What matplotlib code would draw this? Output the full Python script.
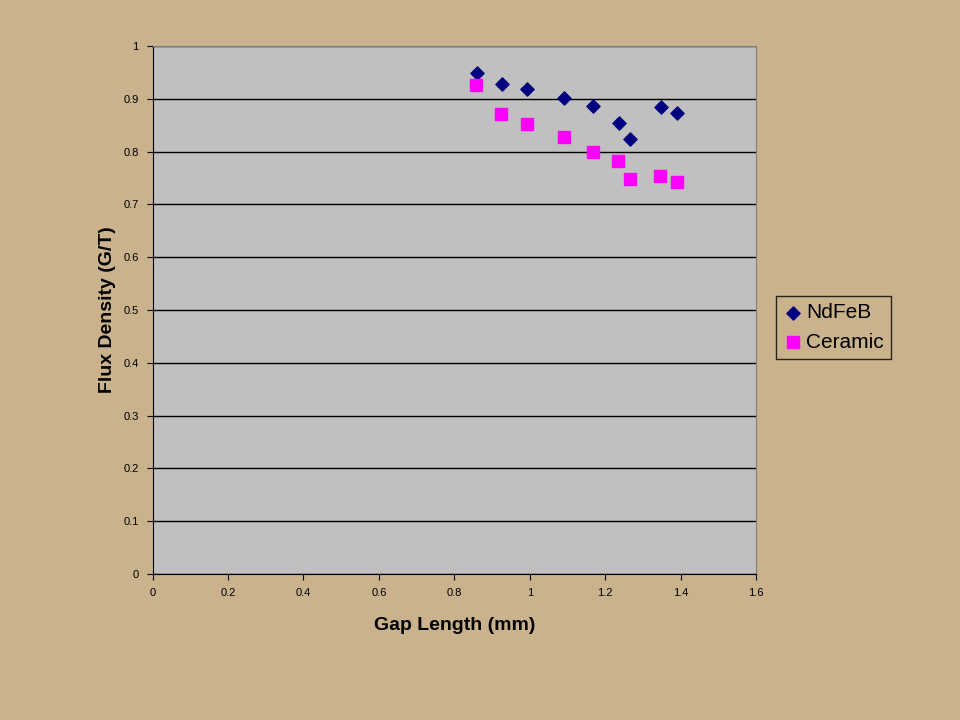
import matplotlib.pyplot as plt
import numpy as np

plt.rcParams['font.family'] = ['Liberation Sans', 'DejaVu Sans']

# gap length (mm) and flux density for both magnet types
gap_ndfeb = [0.860, 0.926, 0.994, 1.090, 1.169, 1.236, 1.267, 1.347, 1.391]
flux_ndfeb = [0.949, 0.929, 0.919, 0.901, 0.887, 0.854, 0.824, 0.884, 0.873]
gap_ceramic = [0.858, 0.924, 0.993, 1.090, 1.168, 1.235, 1.265, 1.346, 1.391]
flux_ceramic = [0.927, 0.871, 0.853, 0.827, 0.800, 0.783, 0.749, 0.753, 0.743]

bg = '#C9B28C'
fig = plt.figure(figsize=(9.6, 7.2), dpi=100, facecolor=bg)
ax = fig.add_axes([0.159, 0.203, 0.6285, 0.733])
ax.set_facecolor('#C0C0C0')

ax.scatter(gap_ndfeb, flux_ndfeb, marker='D', s=45, color='#000080', label='NdFeB', zorder=3)
ax.scatter(gap_ceramic, flux_ceramic, marker='s', s=70, color='#FF00FF', label='Ceramic', zorder=3)

ax.set_xlim(0, 1.6)
ax.set_ylim(0, 1)
ax.set_xticks(np.arange(0, 1.61, 0.2))
ax.set_yticks(np.arange(0, 1.01, 0.1))
ax.set_xticklabels(['0', '0.2', '0.4', '0.6', '0.8', '1', '1.2', '1.4', '1.6'])
ax.set_yticklabels(['0', '0.1', '0.2', '0.3', '0.4', '0.5', '0.6', '0.7', '0.8', '0.9', '1'])
ax.tick_params(labelsize=8, length=4, direction='out', pad=6)
ax.yaxis.grid(True, color='black', linewidth=1)
ax.set_axisbelow(True)
for side in ['top', 'right']:
    ax.spines[side].set_color('#808080')

ax.set_xlabel('Gap Length (mm)', fontsize=14, fontweight='bold', labelpad=14)
ax.set_ylabel('Flux Density (G/T)', fontsize=14, fontweight='bold', labelpad=5)

leg = fig.legend(loc='upper left', bbox_to_anchor=(776 / 960, 1 - 296 / 720), fontsize=15,
                 frameon=True, fancybox=False, facecolor=bg, edgecolor='black',
                 handletextpad=0.2, borderpad=0.35, labelspacing=0.5, handlelength=0.9,
                 borderaxespad=0)
leg.get_frame().set_linewidth(1)

plt.savefig('out.png', dpi=100, facecolor=bg)
